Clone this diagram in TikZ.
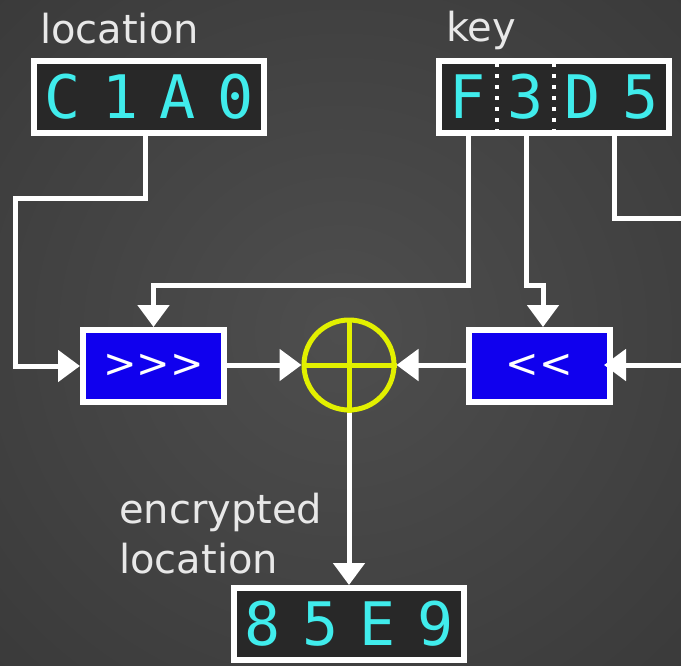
\documentclass[tikz,border=0pt]{standalone}
\usepackage{fontspec}
\setmainfont{DejaVu Sans}
\newfontfamily\hexfont{DejaVu Sans Mono}
\usetikzlibrary{arrows.meta,calc}
\definecolor{bgin}{RGB}{78,78,78}
\definecolor{bgout}{RGB}{38,38,38}
\definecolor{boxfill}{RGB}{40,40,40}
\definecolor{hexcyan}{RGB}{64,236,236}
\definecolor{shiftblue}{RGB}{16,0,238}
\definecolor{xoryellow}{RGB}{226,240,0}
\definecolor{lblgray}{RGB}{232,232,232}
\pgfdeclareradialshading{bgshade}{\pgfpoint{0bp}{0bp}}{color(0bp)=(bgin); color(72bp)=(bgout)}
\newcommand\hexd[4]{\makebox[57.5pt]{#1}\makebox[57.5pt]{#2}\makebox[57.5pt]{#3}\makebox[57.5pt]{#4}}
\tikzset{
  hexbox/.style={draw=white, line width=6pt, fill=boxfill, minimum width=230pt, minimum height=72pt, inner sep=0pt, text=hexcyan, font=\hexfont\fontsize{60}{60}\selectfont},
  shiftbox/.style={draw=white, line width=6pt, fill=shiftblue, minimum width=141pt, minimum height=72pt, inner sep=0pt, text=white, font=\fontsize{40}{40}\selectfont},
  lbltext/.style={text=lblgray, inner sep=0pt, font=\fontsize{40}{50}\selectfont},
  wire/.style={draw=white, line width=5pt},
  arr/.style={wire, -{Triangle[length=22pt,width=31pt]}},
  sepline/.style={draw=white, line width=3.5pt, dash pattern=on 4pt off 7pt, dash phase=6pt}
}
\begin{document}
\begin{tikzpicture}[x=1pt,y=-1pt]
\useasboundingbox (0,0) rectangle (681,665);
\fill[shading=bgshade] (0,0) rectangle (681,665);

% nodes
\node[hexbox] (loc) at (149,97) {\hexd{C}{1}{A}{0}};
\node[hexbox] (key) at (554,97) {\hexd{F}{3}{D}{5}};
\node[hexbox] (enc) at (349,624) {\hexd{8}{5}{E}{9}};
\node[shiftbox] (rot) at (153.5,366) {>\kern0pt>\kern0pt>};
\node[shiftbox] (lsh) at (539.5,366) {<\kern0pt<};
\node[draw=xoryellow, line width=5pt, circle, minimum size=90pt, inner sep=0pt] (xor) at (349,365) {};
\draw[xoryellow, line width=5pt] (xor.north) -- (xor.south) (xor.west) -- (xor.east);

% key separators
\draw[sepline] ([xshift=-57pt]key.north) -- ([xshift=-57pt]key.south);
\draw[sepline] (key.north) -- (key.south);

% labels
\node[lbltext, anchor=base west] (loclbl) at (40,43) {location};
\node[lbltext, anchor=base west] (keylbl) at (446,41) {key};
\node[lbltext, anchor=base west, align=left] (enclbl) at (119,573) {encrypted\\location};

% off-picture coordinates
\coordinate (offA) at (700,218);
\coordinate (offB) at (700,365);

% connectors
\draw[arr] ([xshift=-4pt]loc.south) |- (15,198) |- (rot.west);
\draw[arr] ([xshift=-86pt]key.south) |- (153.5,285) -- (rot.north);
\draw[arr] ([xshift=-28pt]key.south) |- (543,285) -- ([xshift=3.5pt]lsh.north);
\draw[wire] ([xshift=60pt]key.south) |- (offA);
\draw[arr, shorten >=-9pt] (offB) -- (lsh.east |- offB);
\draw[arr] (rot.east |- xor.west) -- (xor.west);
\draw[arr] (lsh.west |- xor.east) -- (xor.east);
\draw[arr] (xor.south) -- (enc.north);
\end{tikzpicture}
\end{document}
